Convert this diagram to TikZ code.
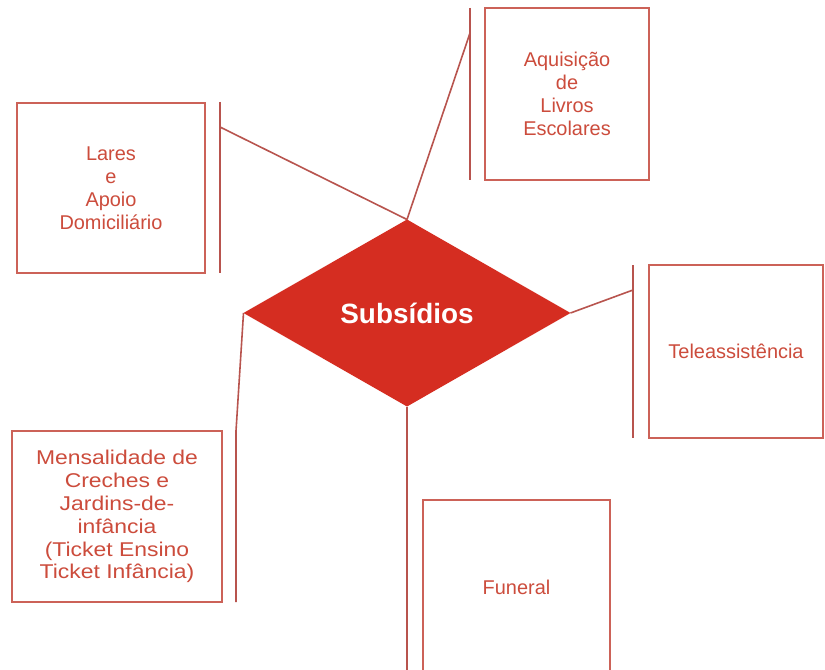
\documentclass[tikz,border=0pt]{standalone}
\usepackage{fontspec}
\setmainfont{Liberation Sans}
\newfontfamily\widesans{Liberation Sans}[FakeStretch=1.15]
\usetikzlibrary{shapes.geometric}
\definecolor{boxline}{RGB}{204,98,88}
\definecolor{txt}{RGB}{204,76,60}
\definecolor{diam}{RGB}{213,45,33}
\definecolor{connc}{RGB}{184,84,78}
\begin{document}
\begin{tikzpicture}[x=1bp,y=-1bp,
  box/.style={draw=boxline, line width=1.8bp, align=center, text=txt,
    font=\fontsize{20}{23}\selectfont, inner sep=0pt, outer sep=0pt},
  conn/.style={draw=connc, line width=1.6bp},
  hub/.style={shape=diamond, fill=diam, draw=none, text=white, inner sep=0pt, outer sep=0pt,
    font=\fontsize{28}{32}\selectfont\bfseries}]
\useasboundingbox (0,0) rectangle (825,670);
\clip (0,0) rectangle (825,670);
\fill[white] (0,0) rectangle (825,670);

% hub
\node[hub, minimum width=327bp, minimum height=187bp, aspect=1.75] (dia) at (407,313) {Subsídios};

% boxes
\node[box, minimum width=188bp, minimum height=170bp] (lares) at (111,188)
  {Lares\\e\\Apoio\\Domiciliário};
\node[box, minimum width=164bp, minimum height=172bp] (aquis) at (567,94)
  {Aquisição\\de\\Livros\\Escolares};
\node[box, minimum width=174bp, minimum height=173bp] (tele) at (736,351.5)
  {Teleassistência};
\node[box, minimum width=210bp, minimum height=171bp, font=\widesans\fontsize{20}{23}\selectfont] (mensal) at (117,516.5)
  {Mensalidade de\\Creches e\\Jardins-de-\\infância\\(Ticket Ensino\\Ticket Infância)};
\node[box, minimum width=187bp, minimum height=174bp] (funeral) at (516.5,587)
  {Funeral};

% bracket coordinates
\coordinate (laresTop) at (220,102);
\coordinate (laresBot) at (220,273);
\coordinate (laresJoin) at (220,127);
\coordinate (aqTop) at (470,8);
\coordinate (aqBot) at (470,180);
\coordinate (aqJoin) at (470,33);
\coordinate (teleTop) at (633,265);
\coordinate (teleBot) at (633,438);
\coordinate (teleJoin) at (633,290);
\coordinate (menJoin) at (236,431);
\coordinate (menBot) at (236,602);
\coordinate (funBot) at (407,676);

% brackets
\draw[conn] (laresTop) -- (laresBot);
\draw[conn] (aqTop) -- (aqBot);
\draw[conn] (teleTop) -- (teleBot);

% connectors
\draw[conn] (laresJoin) -- (dia.north);
\draw[conn] (aqJoin) -- (dia.north);
\draw[conn] (dia.east) -- (teleJoin);
\draw[conn] (dia.west) -- (menJoin) -- (menBot);
\draw[conn] (dia.south) -- (funBot);
\end{tikzpicture}
\end{document}
